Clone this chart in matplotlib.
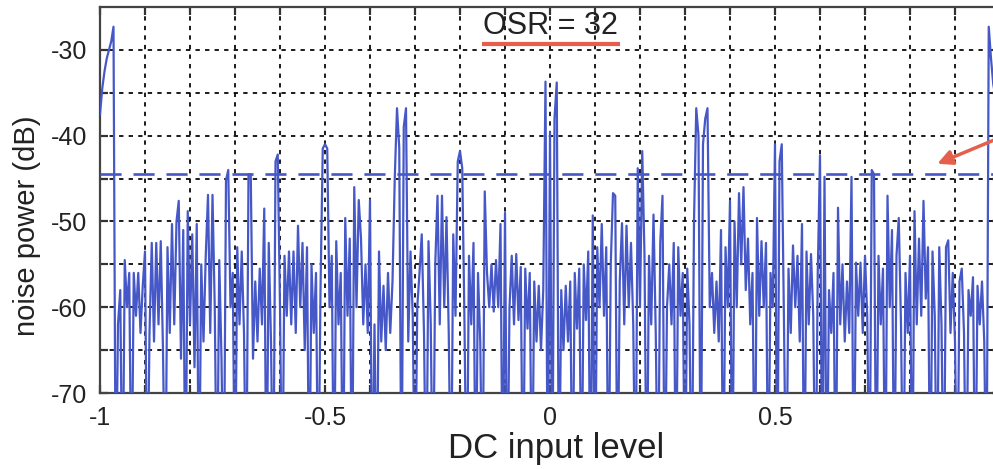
import numpy as np
import matplotlib
matplotlib.use("Agg")
import matplotlib.pyplot as plt

plt.rcParams['font.family'] = ['Liberation Sans', 'DejaVu Sans']
plt.rcParams['axes.unicode_minus'] = False

# noise power (dB), one value every 0.005 of DC input from -1 to 1
# (values of -85 are the drops that fall below the bottom of the axis)
noise_db = [
    -37.5, -34.5, -32.5, -31, -30, -29, -27.3, -85, -62, -58, -85, -54.5, -60, -56, -85, -56, -61, -56, -63, -57.5,
    -53.5, -85, -63, -52.5, -64, -52.5, -62, -52.3, -65, -85, -53, -63, -50.3, -62, -50, -47.6, -66, -51, -85, -48.8,
    -62, -51.5, -67, -50.3, -85, -55, -64, -54, -46.9, -63, -46.9, -60, -85, -54.5, -66, -85, -45.2, -44, -60, -56,
    -85, -53, -62, -53.5, -63, -85, -44.5, -44.5, -66, -57, -64, -55.5, -62, -48.5, -85, -52.5, -64, -85, -43, -42.2,
    -60, -85, -54, -61, -53.5, -62, -53.5, -63, -50.5, -60, -52.5, -65, -53, -85, -55, -63, -56, -85, -58, -41.5,
    -41, -41.5, -60, -54, -85, -52.3, -62, -56, -85, -49.6, -61, -52, -85, -46, -60, -47.5, -52, -62, -55, -63,
    -47.5, -85, -62, -85, -53.5, -64, -57.5, -65, -56, -63, -57, -45, -36.8, -41.4, -85, -39, -36.8, -64, -53.5, -61,
    -85, -60, -56, -51.5, -63, -85, -52.3, -62, -85, -55, -47, -62, -47, -60, -49.5, -63, -85, -51.5, -61, -43,
    -41.8, -43.8, -62, -85, -54, -62, -52.5, -85, -56, -64, -85, -46.5, -56, -60, -55, -60.5, -54.5, -60, -50.3, -85,
    -49, -85, -60, -54, -62, -53.8, -61.5, -55.3, -85, -55.5, -62.5, -56, -85, -57, -64, -57.5, -65, -58, -33.7, -85,
    -39.6, -85, -38, -33.8, -85, -58, -65, -57.5, -64, -57, -85, -56, -62.5, -55.5, -85, -55, -61.5, -53.5, -85, -49.3,
    -85, -53, -60, -50.3, -61, -53, -85, -55, -46.7, -47, -85, -57, -50.2, -62, -50.5, -60, -52.5, -62, -85, -43.8,
    -60, -41.8, -54, -85, -54, -62, -49.2, -63, -85, -52.5, -47, -85, -60, -55, -62, -52.5, -85, -53, -61, -56,
    -85, -55.5, -62, -85, -50, -36.8, -40, -85, -41, -38, -36.8, -60, -56, -63, -57, -64, -51, -85, -53, -60,
    -47.6, -85, -50, -60, -46.7, -55, -46, -58, -52, -62, -56, -85, -49.6, -61, -52.3, -60, -52.5, -85, -56, -60,
    -41, -85, -43, -41, -62, -85, -55.5, -63, -52.8, -60, -54, -64, -50.3, -85, -53.5, -62, -53.8, -61, -85, -56,
    -42.3, -85, -44.8, -85, -58, -63, -56, -85, -48.4, -62, -55, -64, -57, -63, -44.8, -85, -54.8, -61, -54.8, -63,
    -54, -61, -85, -44, -44.5, -85, -54, -62, -55.5, -85, -47, -60, -51, -85, -54, -49.6, -62, -85, -56, -63,
    -54, -85, -48.8, -62, -52, -61, -47.6, -59, -53, -85, -53.5, -61, -85, -53, -62, -85, -53, -52.2, -63, -56,
    -64, -85, -57, -55.5, -63, -85, -58, -61, -56.5, -85, -57.5, -62, -57, -64, -85, -27.3, -31, -34, -35.5, -36.5,
    -37.5,
]
dc_input = np.linspace(-1, 1, len(noise_db))
threshold_db = -44.5
osr_label = 'OSR = 32'

xticks = np.round(np.arange(-1, 1.01, 0.1), 2)
xtick_labels = {-1.0: '-1', -0.5: '-0.5', 0.0: '0', 0.5: '0.5'}
yticks = np.arange(-70, -29, 5)
ytick_labels = {-70: '-70', -60: '-60', -50: '-50', -40: '-40', -30: '-30'}

blue = '#4658c8'
red = '#e5604c'
ink = '#222222'

fig = plt.figure(figsize=(9.93, 4.69), dpi=100)
ax = fig.add_axes([100 / 993, 76 / 469, 900 / 993, 386 / 469])

ax.plot(dc_input, noise_db, color=blue, lw=1.6, zorder=3)
ax.axhline(threshold_db, color=blue, lw=1.9, dashes=(8, 4.5), zorder=3)

ax.set_xlim(-1, 1)
ax.set_ylim(-70, -25)
ax.set_xticks(xticks)
ax.set_xticklabels([xtick_labels.get(float(t), '') for t in xticks])
ax.set_yticks(yticks)
ax.set_yticklabels([ytick_labels.get(int(t), '') for t in yticks])
ax.tick_params(direction='in', top=True, right=True, length=6, width=1.6,
               labelsize=18, colors='#333333', labelcolor=ink)
ax.tick_params(axis='x', pad=9)
ax.tick_params(axis='y', pad=9)
ax.grid(True, color='black', lw=1.25, linestyle=(0, (2.5, 3)))
for s in ax.spines.values():
    s.set_color('#444444')
    s.set_linewidth(1.6)

ax.set_xlabel('DC input level', fontsize=25, color=ink)
ax.xaxis.set_label_coords(0.507, -0.10)
ax.set_ylabel('noise power (dB)', fontsize=21, color=ink)
ax.yaxis.set_label_coords(-0.066, 0.433)

ax.text(0.0, -28.1, osr_label, ha='center', va='baseline', fontsize=22, color=ink)
ax.plot([-0.151, 0.156], [-29.3, -29.3], color=red, lw=3, solid_capstyle='butt')
ax.annotate('', xy=(0.855, -43.4), xytext=(1.01, -40.0), annotation_clip=False,
            arrowprops=dict(arrowstyle='-|>', color=red, lw=2.5, mutation_scale=22))

fig.savefig('out.png', dpi=100)
